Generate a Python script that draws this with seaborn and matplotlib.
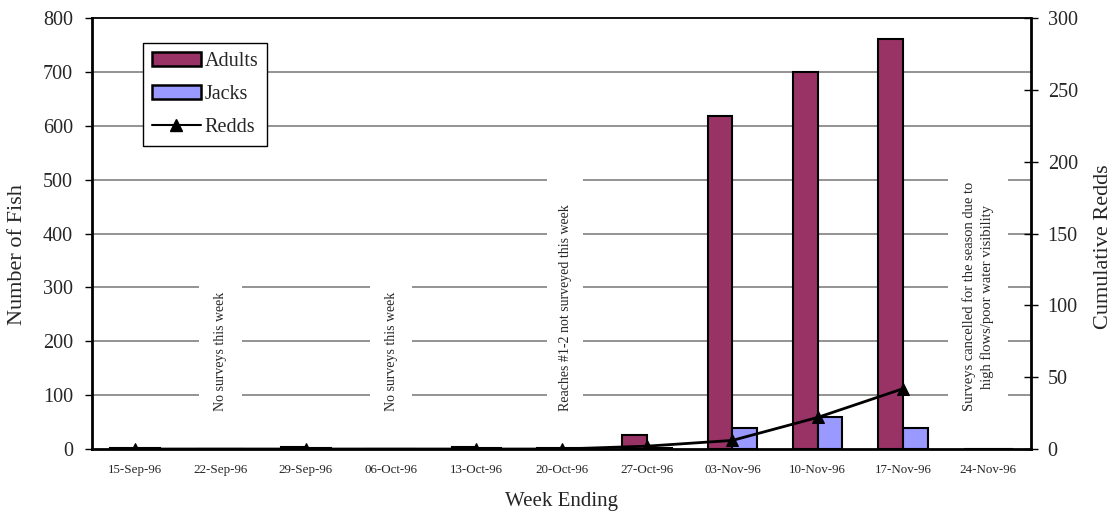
import numpy as np
import pandas as pd
import matplotlib
matplotlib.use("Agg")
import matplotlib.pyplot as plt
import seaborn as sns
from matplotlib.patches import Patch, Rectangle
from matplotlib.lines import Line2D

weeks = ["15-Sep-96", "22-Sep-96", "29-Sep-96", "06-Oct-96", "13-Oct-96", "20-Oct-96",
         "27-Oct-96", "03-Nov-96", "10-Nov-96", "17-Nov-96", "24-Nov-96"]
adults = [2, 0, 4, 0, 4, 2, 26, 618, 699, 762, 0]
jacks = [1, 0, 2, 0, 2, 1, 2, 39, 59, 39, 0]
redds = [0, np.nan, 0, np.nan, 0, 0, 2, 6, 22, 42, np.nan]
notes = {1: "No surveys this week",
         3: "No surveys this week",
         5: "Reaches #1-2 not surveyed this week",
         10: "Surveys cancelled for the season due to\nhigh flows/poor water visibility"}

sns.set_theme(style="white")
plt.rcParams["font.family"] = ["Liberation Serif", "DejaVu Serif"]

fig = plt.figure(figsize=(11.14, 5.16), dpi=100)
ax = fig.add_axes([0.083, 0.1298, 0.8425, 0.8352])

df = pd.DataFrame({"week": weeks * 2,
                   "count": adults + jacks,
                   "kind": ["Adults"] * len(weeks) + ["Jacks"] * len(weeks)})
sns.barplot(data=df, x="week", y="count", hue="kind", order=weeks,
            palette={"Adults": "#993366", "Jacks": "#9999FF"}, saturation=1,
            width=0.58, edgecolor="black", linewidth=1.5, ax=ax, legend=False)

ax.set_ylim(0, 800)
ax.set_xlim(-0.5, len(weeks) - 0.5)
ax.set_yticks(np.arange(0, 801, 100))
for y in range(100, 800, 100):
    ax.axhline(y, color="#808080", lw=1.2, zorder=0.5)
ax.set_axisbelow(True)

ax.set_xticks(np.arange(len(weeks)))
ax.set_xticklabels(weeks, fontsize=9.4)
ax.tick_params(axis="x", length=0, pad=11)
ax.set_xticks(np.arange(-0.5, len(weeks)), minor=True)
ax.tick_params(axis="x", which="minor", direction="inout", length=8, width=1, color="black")
ax.tick_params(axis="y", direction="out", length=5, width=1, color="black", labelsize=14.5, pad=9, left=True)
ax.set_ylabel("Number of Fish", fontsize=16)
ax.yaxis.set_label_coords(-0.070, 0.452)
ax.set_xlabel("Week Ending", fontsize=15, labelpad=11)
for s in ["left", "bottom"]:
    ax.spines[s].set_linewidth(2)
    ax.spines[s].set_color("black")
ax.spines["top"].set_linewidth(1.3)
ax.spines["top"].set_color("black")
ax.spines["right"].set_visible(False)

boxes = {1: (-20, 325, 0.5), 3: (-20, 325, 0.5), 5: (-20, 530, 0.42), 10: (-20, 515, 0.7)}
xoff = {1: 0, 3: 0, 5: 0.04, 10: -0.12}
fsize = {1: 10, 3: 10, 5: 10, 10: 10.5}
for i, txt in notes.items():
    y0, y1, w = boxes[i]
    ax.add_patch(Rectangle((i + xoff[i] - w / 2, y0), w, y1 - y0, facecolor="white",
                           edgecolor="none", zorder=0.8))
    ax.text(i + xoff[i], 70, txt, rotation=90, ha="center", va="bottom", fontsize=fsize[i],
            multialignment="center", linespacing=1.3, zorder=3)

ax2 = ax.twinx()
rdf = pd.DataFrame({"x": np.arange(len(weeks)), "redds": redds}).dropna()
sns.lineplot(data=rdf, x="x", y="redds", color="black", lw=2, marker="^",
             markersize=8, markeredgecolor="black", ax=ax2)
ax2.set_ylim(0, 300)
ax2.set_yticks(np.arange(0, 301, 50))
ax2.tick_params(axis="y", direction="inout", length=10, width=1, color="black", labelsize=14.5, pad=7, right=True)
ax2.set_ylabel("Cumulative Redds", fontsize=16)
ax2.yaxis.set_label_coords(1.067, 0.469)
ax2.set_xlabel("")
ax2.grid(False)
ax2.spines["right"].set_linewidth(2)
ax2.spines["right"].set_color("black")
for s in ["left", "top", "bottom"]:
    ax2.spines[s].set_visible(False)
ax2.set_xlim(-0.5, len(weeks) - 0.5)

handles = [Patch(facecolor="#993366", edgecolor="black", lw=1.8, label="Adults"),
           Patch(facecolor="#9999FF", edgecolor="black", lw=1.8, label="Jacks"),
           Line2D([], [], color="black", lw=1.5, marker="^", markersize=8, label="Redds")]
leg = ax2.legend(handles=handles, loc="upper left", bbox_to_anchor=(0.054, 0.943),
                 fontsize=14.5, frameon=True, fancybox=False, framealpha=1,
                 edgecolor="black", handlelength=2.4, handleheight=0.7,
                 handletextpad=0.2, labelspacing=0.7, borderpad=0.45, borderaxespad=0)
leg.get_frame().set_linewidth(1)

fig.savefig("out.png", dpi=100)
